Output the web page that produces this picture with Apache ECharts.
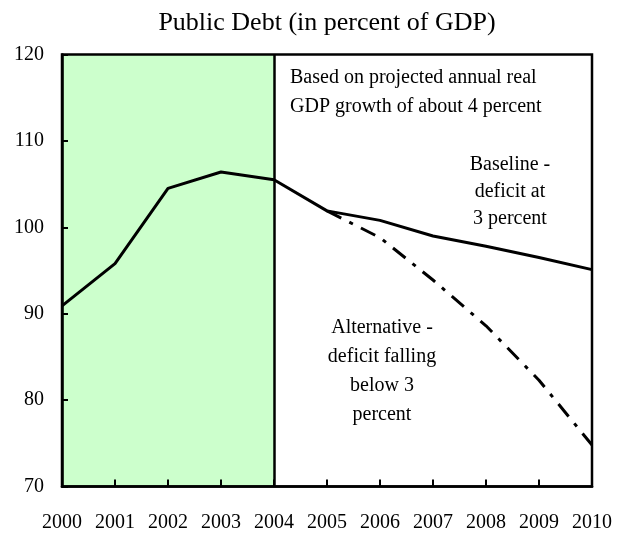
<!DOCTYPE html>
<html>
<head>
<meta charset="utf-8">
<script src="https://cdn.jsdelivr.net/npm/echarts@6/dist/echarts.min.js"></script>
<style>html,body{margin:0;padding:0;background:#fff}#c{width:619px;height:533px}</style>
</head>
<body>
<div id="c"></div>
<script>
var years = [2000, 2001, 2002, 2003, 2004, 2005, 2006, 2007, 2008, 2009, 2010];
var baseline = [90.9, 95.8, 104.5, 106.4, 105.5, 101.9, 100.8, 99.0, 97.8, 96.5, 95.1];
var altYears = [2005, 2006, 2007, 2008, 2009, 2010];
var alternative = [101.9, 98.8, 93.9, 88.6, 82.3, 74.8];
var historyStart = 2000, historyEnd = 2004;
var yTicks = [70, 80, 90, 100, 110, 120];

var font = 'Liberation Serif, Times New Roman, serif';
var chart = echarts.init(document.getElementById('c'), null, {renderer: 'canvas'});
chart.setOption({
  animation: false,
  backgroundColor: '#fff',
  grid: {left: 62, right: 27, top: 54.5, bottom: 46.5, show: true, borderColor: '#000', borderWidth: 2.5, backgroundColor: 'transparent', z: 20},
  xAxis: {
    type: 'value', min: years[0], max: years[years.length - 1], interval: 1, z: 20,
    axisLine: {show: true, lineStyle: {color: '#000', width: 2.5}},
    axisTick: {show: true, inside: true, length: 7, lineStyle: {color: '#000', width: 2}},
    axisLabel: {color: '#000', fontFamily: font, fontSize: 20, margin: 26, formatter: function (v) { return String(v); }},
    splitLine: {show: false}
  },
  yAxis: {
    type: 'value', min: yTicks[0], max: yTicks[yTicks.length - 1], interval: 10, z: 20,
    axisLine: {show: true, lineStyle: {color: '#000', width: 2.5}},
    axisTick: {show: true, inside: true, length: 6, lineStyle: {color: '#000', width: 2}},
    axisLabel: {color: '#000', fontFamily: font, fontSize: 20, margin: 18},
    splitLine: {show: false}
  },
  series: [
    {
      type: 'line', data: years.map(function (y, i) { return [y, baseline[i]]; }),
      symbol: 'none', lineStyle: {color: '#000', width: 3}, z: 5,
      markArea: {silent: true, itemStyle: {color: '#CCFFCC'}, data: [[{xAxis: historyStart}, {xAxis: historyEnd}]]},
      markLine: {silent: true, symbol: 'none', label: {show: false}, lineStyle: {color: '#000', width: 2.5, type: 'solid'}, data: [{xAxis: historyEnd}]}
    },
    {
      type: 'line', data: altYears.map(function (y, i) { return [y, alternative[i]]; }),
      symbol: 'none', lineStyle: {color: '#000', width: 3, type: [16, 9, 4, 9]}, z: 4
    }
  ],
  graphic: [
    {type: 'text', x: 327, y: 10, style: {text: 'Public Debt (in percent of GDP)', font: '26px ' + font, fill: '#000', align: 'center'}, z: 10},
    {type: 'text', x: 290, y: 63, style: {text: 'Based on projected annual real\nGDP growth of about 4 percent', font: '20px ' + font, fill: '#000', lineHeight: 29, align: 'left'}, z: 10},
    {type: 'text', x: 510, y: 151.5, style: {text: 'Baseline -\ndeficit at\n3 percent', font: '20px ' + font, fill: '#000', lineHeight: 27, align: 'center'}, z: 10},
    {type: 'text', x: 382, y: 313.5, style: {text: 'Alternative -\ndeficit falling\nbelow 3\npercent', font: '20px ' + font, fill: '#000', lineHeight: 29, align: 'center'}, z: 10}
  ]
});
</script>
</body>
</html>
